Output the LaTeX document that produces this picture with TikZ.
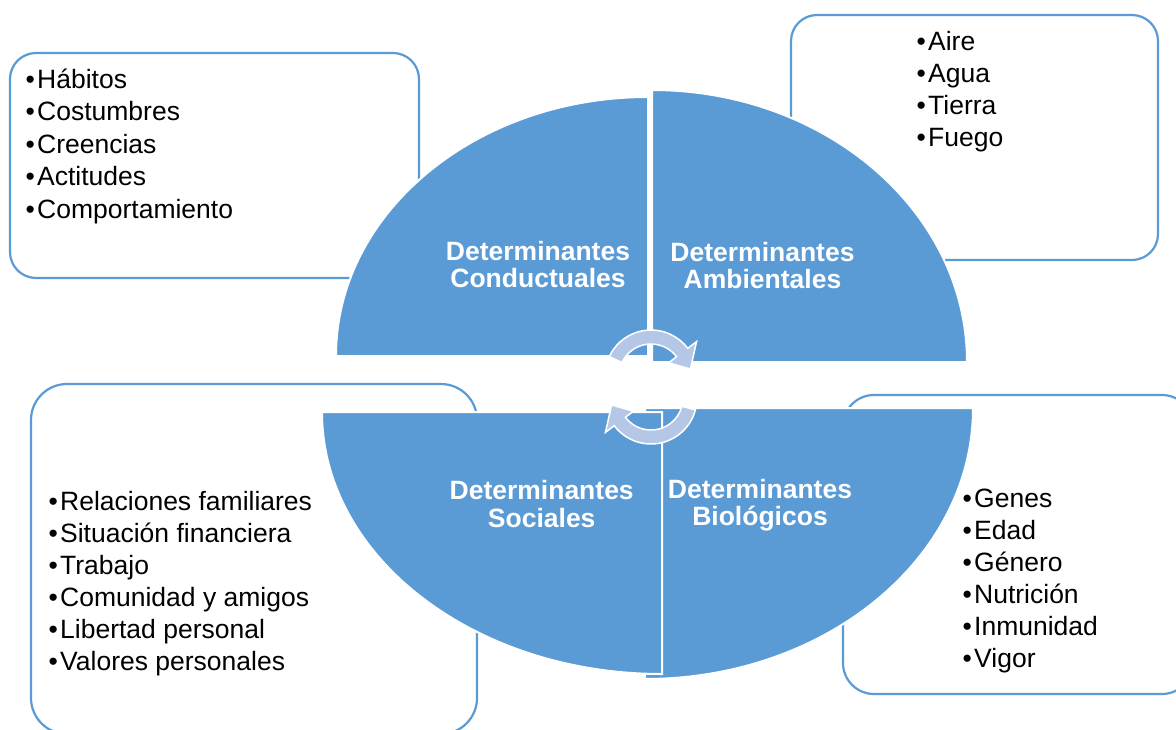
\documentclass[tikz,border=0pt]{standalone}
\usepackage{fontspec}
\setmainfont{Liberation Sans}
\usetikzlibrary{calc}
\definecolor{qblue}{HTML}{5B9BD5}
\definecolor{arrowblue}{HTML}{B4C7E7}
\newcommand\bul[1]{\makebox[11.5pt][l]{•}#1}
\begin{document}
\begin{tikzpicture}[x=1pt,y=-1pt,
  listbox/.style={draw=qblue, line width=2.2pt, fill=white, rounded corners=26pt},
  quad/.style={fill=qblue, draw=white, line width=2pt},
  cyc/.style={fill=arrowblue, draw=white, line width=1.5pt},
  title/.style={text=white, font=\fontsize{26.5}{27.3}\selectfont\bfseries, align=center, inner sep=0pt},
  item/.style={anchor=base west, inner sep=0pt, text=black, font=\fontsize{26.5}{31}\selectfont}]
\clip (0,0) rectangle (1176,729);
\fill[white] (0,0) rectangle (1176,729);
% list boxes
\draw[listbox] (10,53) rectangle (419,278);
\draw[listbox] (791,15) rectangle (1158,260);
\draw[listbox, rounded corners=36pt] (31,384) rectangle (477,734);
\draw[listbox, rounded corners=31pt] (843,395) rectangle (1193,694);
% quadrants
\filldraw[quad] (648,356) -- (336,356) arc[start angle=180, end angle=270, x radius=312, y radius=259] -- cycle;
\filldraw[quad] (652,362) -- (652,90) arc[start angle=270, end angle=360, x radius=315, y radius=272] -- cycle;
\filldraw[quad] (645,408) -- (973,408) arc[start angle=0, end angle=90, x radius=328, y radius=271] -- cycle;
\filldraw[quad] (662,412) -- (662,674) arc[start angle=90, end angle=180, x radius=340, y radius=262] -- cycle;
% titles
\node[title] (tcond) at (538,264.3) {Determinantes\\Conductuales};
\node[title] (tamb) at (762.5,265.5) {Determinantes\\Ambientales};
\node[title] (tsoc) at (541.7,504) {Determinantes\\Sociales};
\node[title] (tbio) at (760,505) {Determinantes\\Biológicos};
% cycle arrows
\coordinate (ct) at (651,376);
\coordinate (cb) at (651,398);
\filldraw[cyc] ($(ct)+(205:46)$) arc[start angle=205, end angle=323, radius=46]
  -- ($(ct)+(323:57)$) -- ($(ct)+(350:40)$) -- ($(ct)+(323:22)$)
  -- ($(ct)+(323:32)$) arc[start angle=323, end angle=205, radius=32] -- cycle;
\filldraw[cyc] ($(cb)+(15:46)$) arc[start angle=15, end angle=143, radius=46]
  -- ($(cb)+(143:57)$) -- ($(cb)+(170:40)$) -- ($(cb)+(143:22)$)
  -- ($(cb)+(143:32)$) arc[start angle=143, end angle=15, radius=32] -- cycle;
% lists
\foreach \t [count=\i] in {Hábitos,Costumbres,Creencias,Actitudes,Comportamiento}
  \node[item] (cond\i) at (25.5,{88+32.6*(\i-1)}) {\bul{\t}};
\foreach \t [count=\i] in {Aire,Agua,Tierra,Fuego}
  \node[item] (amb\i) at (916.5,{50+32*(\i-1)}) {\bul{\t}};
\foreach \t [count=\i] in {Relaciones familiares,Situación financiera,Trabajo,Comunidad y amigos,Libertad personal,Valores personales}
  \node[item] (soc\i) at (48.5,{510+32*(\i-1)}) {\bul{\t}};
\foreach \t [count=\i] in {Genes,Edad,Género,Nutrición,Inmunidad,Vigor}
  \node[item] (bio\i) at (962.5,{507+32.1*(\i-1)}) {\bul{\t}};
\end{tikzpicture}
\end{document}
